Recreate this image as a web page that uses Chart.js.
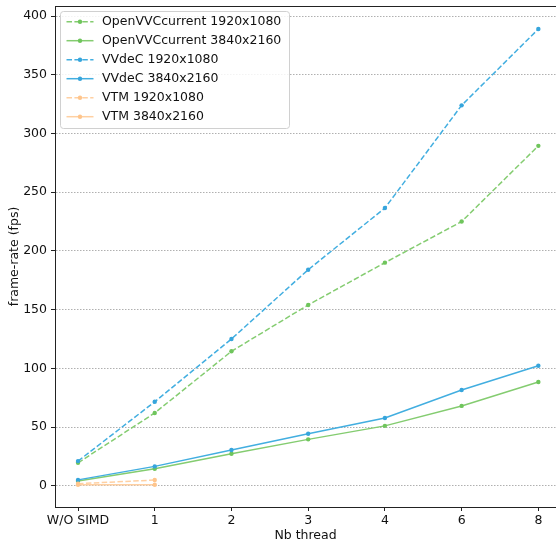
<!DOCTYPE html>
<html>
<head>
<meta charset="utf-8">
<script src="https://cdn.jsdelivr.net/npm/chart.js@4.4.1/dist/chart.umd.min.js"></script>
<style>
  html, body { margin: 0; padding: 0; background: #fff; }
  #wrap { width: 556px; height: 544px; }
</style>
</head>
<body>
<div id="wrap"><canvas id="chart"></canvas></div>
<script>
// thread settings on the x axis
const threadLabels = ['W/O SIMD', '1', '2', '3', '4', '6', '8'];
const yTicks = [0, 50, 100, 150, 200, 250, 300, 350, 400];

// frame-rate (fps)
const openvvc1080 = [19.5, 62, 114.5, 154, 190, 225, 289.5];
const openvvc2160 = [4, 14.5, 27.3, 39.5, 51, 68, 88.3];
const vvdec1080 = [21, 71.5, 125, 184, 236.5, 324, 389];
const vvdec2160 = [5, 16.5, 30.4, 44.3, 57.7, 81.5, 102.2];
const vtm1080 = [1.7, 4.9];
const vtm2160 = [0.9, 0.9];

const FONT = 'DejaVu Sans';
const GREEN = '#84cc70', GREEN_PT = '#6fc55c';
const BLUE = '#42aee0', BLUE_PT = '#36a5dc';
const ORANGE = '#ffd0a2', ORANGE_PT = '#ffc58c';
const DASH = [5.5, 2.4];

const toPoints = (arr) => arr.map((v, i) => ({ x: i, y: v }));

const makeSet = (label, values, color, ptColor, dashed, idx) => ({
  label: label,
  data: toPoints(values),
  borderColor: color,
  backgroundColor: ptColor,
  pointBackgroundColor: ptColor,
  pointBorderWidth: 0,
  pointRadius: 2.2,
  borderWidth: 1.5,
  borderDash: dashed ? DASH : [],
  tension: 0,
  fill: false,
  order: -idx,
});

const datasets = [
  makeSet('OpenVVCcurrent 1920x1080', openvvc1080, GREEN, GREEN_PT, true, 0),
  makeSet('OpenVVCcurrent 3840x2160', openvvc2160, GREEN, GREEN_PT, false, 1),
  makeSet('VVdeC 1920x1080', vvdec1080, BLUE, BLUE_PT, true, 2),
  makeSet('VVdeC 3840x2160', vvdec2160, BLUE, BLUE_PT, false, 3),
  makeSet('VTM 1920x1080', vtm1080, ORANGE, ORANGE_PT, true, 4),
  makeSet('VTM 3840x2160', vtm2160, ORANGE, ORANGE_PT, false, 5),
];

// top spine + matplotlib-like legend box
const framePlugin = {
  id: 'frame',
  afterDraw(chart) {
    const ctx = chart.ctx;
    const area = chart.chartArea;
    ctx.save();
    ctx.strokeStyle = '#222';
    ctx.lineWidth = 1;
    ctx.beginPath();
    ctx.moveTo(area.left, Math.round(area.top) + 0.5);
    ctx.lineTo(area.right, Math.round(area.top) + 0.5);
    ctx.stroke();

    // legend
    const bx = 60.5, by = 11.5, bw = 229, bh = 117, r = 3;
    ctx.beginPath();
    ctx.moveTo(bx + r, by);
    ctx.arcTo(bx + bw, by, bx + bw, by + bh, r);
    ctx.arcTo(bx + bw, by + bh, bx, by + bh, r);
    ctx.arcTo(bx, by + bh, bx, by, r);
    ctx.arcTo(bx, by, bx + bw, by, r);
    ctx.closePath();
    ctx.fillStyle = 'rgba(255,255,255,0.85)';
    ctx.fill();
    ctx.strokeStyle = '#d0d0d0';
    ctx.stroke();

    ctx.font = '12.5px "' + FONT + '"';
    ctx.textBaseline = 'middle';
    ctx.textAlign = 'left';
    chart.data.datasets.forEach((ds, i) => {
      const y = 21.7 + i * 19;
      ctx.strokeStyle = ds.borderColor;
      ctx.lineWidth = ds.borderWidth;
      ctx.setLineDash(ds.borderDash);
      ctx.beginPath();
      ctx.moveTo(66.5, y);
      ctx.lineTo(93.5, y);
      ctx.stroke();
      ctx.setLineDash([]);
      ctx.fillStyle = ds.pointBackgroundColor;
      ctx.beginPath();
      ctx.arc(80, y, 2.2, 0, Math.PI * 2);
      ctx.fill();
      ctx.fillStyle = '#111';
      ctx.fillText(ds.label, 102, y + 0.5);
    });
    ctx.restore();
  }
};

Chart.defaults.font.family = FONT;
Chart.defaults.font.size = 12.5;
Chart.defaults.color = '#111';

new Chart(document.getElementById('chart').getContext('2d'), {
  type: 'line',
  data: { datasets: datasets },
  plugins: [framePlugin],
  options: {
    responsive: true,
    maintainAspectRatio: false,
    animation: false,
    layout: { autoPadding: false, padding: { top: 6, right: 0, left: 0, bottom: 0 } },
    plugins: {
      legend: { display: false },
      tooltip: { enabled: false },
    },
    scales: {
      x: {
        type: 'linear',
        min: -0.3,
        max: 6.23,
        afterBuildTicks: (scale) => {
          scale.ticks = threadLabels.map((_, i) => ({ value: i }));
        },
        afterFit: (scale) => {
          scale.height = 37;
          scale.paddingLeft = 0;
          scale.paddingRight = 0;
        },
        ticks: {
          autoSkip: false,
          maxRotation: 0,
          padding: 2,
          callback: (v) => threadLabels[v],
        },
        grid: {
          drawOnChartArea: false,
          drawTicks: true,
          tickLength: 4,
          tickColor: '#222',
        },
        border: { display: true, color: '#222', width: 1 },
        title: {
          display: true,
          text: 'Nb thread',
          padding: { top: 0, bottom: 1 },
        },
      },
      y: {
        type: 'linear',
        min: -18.1,
        max: 408.6,
        afterBuildTicks: (scale) => {
          scale.ticks = yTicks.map((v) => ({ value: v }));
        },
        afterFit: (scale) => {
          scale.width = 55;
          scale.paddingTop = 0;
          scale.paddingBottom = 0;
        },
        ticks: { padding: 4 },
        grid: {
          color: '#b0b0b0',
          lineWidth: 1,
          drawTicks: true,
          tickLength: 4,
          tickColor: '#222',
          tickBorderDash: [],
        },
        border: { display: true, color: '#222', width: 1, dash: [1.5, 1.5] },
        title: {
          display: true,
          text: 'frame-rate (fps)',
          padding: { top: 7, bottom: 0 },
        },
      },
    },
  },
});
</script>
</body>
</html>
